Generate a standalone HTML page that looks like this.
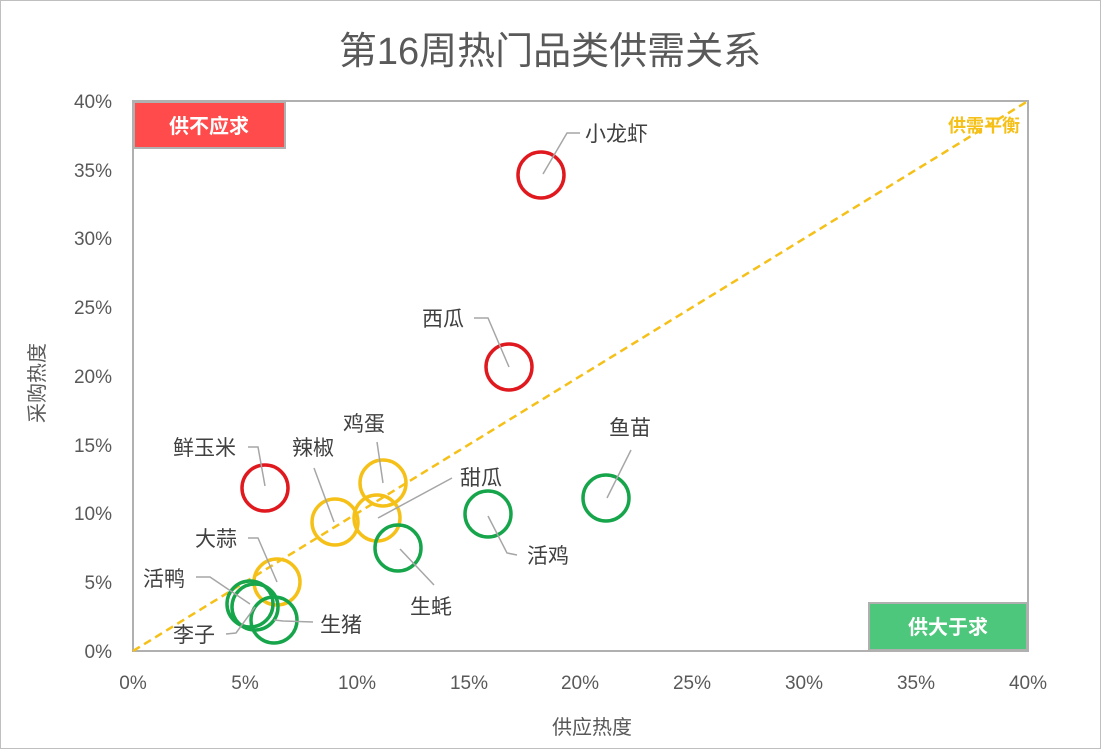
<!DOCTYPE html>
<html><head><meta charset="utf-8"><style>
body{margin:0;background:#fff;}
svg text{font-family:"Liberation Sans","Noto Sans CJK SC",sans-serif;}
</style></head><body>
<svg width="1101" height="749" xmlns="http://www.w3.org/2000/svg">
<rect x="0.5" y="0.5" width="1100" height="748" fill="#fff" stroke="#bfbfbf"/>
<text x="550" y="64" font-size="38" fill="#595959" text-anchor="middle">第16周热门品类供需关系</text>
<rect x="133" y="101" width="895" height="550" fill="none" stroke="#b0b0b0" stroke-width="2"/>
<g font-size="19" fill="#595959" text-anchor="end">
<text x="112" y="658">0%</text><text x="112" y="589">5%</text><text x="112" y="520">10%</text><text x="112" y="452">15%</text><text x="112" y="383">20%</text><text x="112" y="314">25%</text><text x="112" y="245">30%</text><text x="112" y="177">35%</text><text x="112" y="108">40%</text>
</g>
<g font-size="19" fill="#595959" text-anchor="middle">
<text x="133" y="689">0%</text><text x="245" y="689">5%</text><text x="357" y="689">10%</text><text x="469" y="689">15%</text><text x="580" y="689">20%</text><text x="692" y="689">25%</text><text x="804" y="689">30%</text><text x="916" y="689">35%</text><text x="1028" y="689">40%</text>
</g>
<text x="592" y="734" font-size="20" fill="#595959" text-anchor="middle">供应热度</text>
<text transform="translate(44,383) rotate(-90)" font-size="20" fill="#595959" text-anchor="middle">采购热度</text>
<line x1="133" y1="651" x2="1028" y2="101" stroke="#f5c018" stroke-width="2.5" stroke-dasharray="8,5"/>
<text x="1020" y="132" font-size="18" font-weight="bold" fill="#f5c018" text-anchor="end">供需平衡</text>
<rect x="134" y="102" width="151" height="46" fill="#ff4b4b" stroke="#b0b0b0" stroke-width="2"/>
<text x="209" y="133" font-size="20" font-weight="bold" fill="#fff" text-anchor="middle">供不应求</text>
<rect x="869" y="603" width="158" height="47" fill="#4cc77c" stroke="#b0b0b0" stroke-width="2"/>
<text x="948" y="634" font-size="20" font-weight="bold" fill="#fff" text-anchor="middle">供大于求</text>
<g fill="none" stroke-width="3.5">
<circle cx="541" cy="175" r="23" stroke="#e0191f"/>
<circle cx="509" cy="367" r="23" stroke="#e0191f"/>
<circle cx="265" cy="488" r="23" stroke="#e0191f"/>
<circle cx="383" cy="483" r="23" stroke="#f5c018"/>
<circle cx="335" cy="522" r="23" stroke="#f5c018"/>
<circle cx="377" cy="518" r="23" stroke="#f5c018"/>
<circle cx="277" cy="582" r="23" stroke="#f5c018"/>
<circle cx="606" cy="498" r="23" stroke="#16a54a"/>
<circle cx="488" cy="514" r="23" stroke="#16a54a"/>
<circle cx="398" cy="548" r="23" stroke="#16a54a"/>
<circle cx="250" cy="604" r="23" stroke="#16a54a"/>
<circle cx="255" cy="607" r="23" stroke="#16a54a"/>
<circle cx="274" cy="620" r="23" stroke="#16a54a"/>
</g>
<g fill="none" stroke="#a6a6a6" stroke-width="1.5">
<polyline points="543,174 567,133 580,133"/>
<polyline points="474,318 488,318 509,367"/>
<polyline points="248,447 258,447 265,486"/>
<polyline points="377,442 383,483"/>
<polyline points="314,468 334,522"/>
<polyline points="452,478 378,518"/>
<polyline points="248,538 258,538 277,582"/>
<polyline points="631,450 607,498"/>
<polyline points="517,555 507,553 488,516"/>
<polyline points="434,585 400,549"/>
<polyline points="196,577 210,577 250,604"/>
<polyline points="226,634 236,633 255,607"/>
<polyline points="313,622 283,621 274,620"/>
</g>
<g font-size="21" fill="#404040">
<text x="585" y="141">小龙虾</text>
<text x="422" y="326">西瓜</text>
<text x="173" y="455">鲜玉米</text>
<text x="343" y="431">鸡蛋</text>
<text x="292" y="455">辣椒</text>
<text x="460" y="485">甜瓜</text>
<text x="195" y="546">大蒜</text>
<text x="609" y="435">鱼苗</text>
<text x="527" y="563">活鸡</text>
<text x="410" y="614">生蚝</text>
<text x="143" y="586">活鸭</text>
<text x="173" y="642">李子</text>
<text x="320" y="632">生猪</text>
</g>
</svg>
</body></html>
